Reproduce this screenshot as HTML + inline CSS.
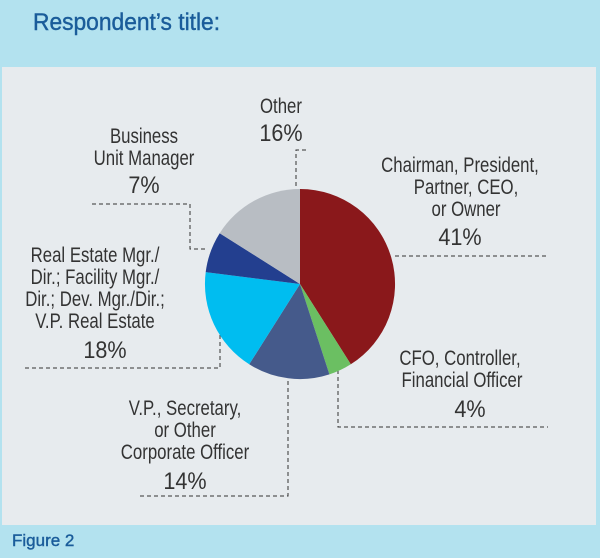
<!DOCTYPE html>
<html><head><style>
body{margin:0;width:600px;height:553px;overflow:hidden;background:#b3e2ef;font-family:"Liberation Sans",sans-serif;}
</style></head><body>
<svg width="600" height="553" viewBox="0 0 600 553" xmlns="http://www.w3.org/2000/svg">
<rect x="0" y="0" width="600" height="553" fill="#b3e2ef"/>
<rect x="2" y="67" width="594" height="458" fill="#e7ebee"/>
<text transform="translate(33,30) scale(0.95,1)" font-size="24" fill="#1a5c9a" stroke="#1a5c9a" stroke-width="0.4">Respondent’s title:</text>
<text x="12" y="546" font-size="17" fill="#1a5c9a" stroke="#1a5c9a" stroke-width="0.4">Figure 2</text>
<g stroke="#333" stroke-width="1" stroke-dasharray="4,3" fill="none">
<polyline points="306,150 296,150 296,189"/>
<polyline points="92,204 190,204 190,249 208,249"/>
<polyline points="395,256 548,256"/>
<polyline points="25,368 220,368 220,335"/>
<polyline points="140,496 288,496 288,378"/>
<polyline points="338,370 338,427 548,427"/>
</g>
<g transform="translate(300,284)">
<path d="M0,0 L0,-95 A95,95 0 0 1 50.8,80.3 Z" fill="#8a181b"/>
<path d="M0,0 L50.8,80.3 A95,95 0 0 1 29.4,90.4 Z" fill="#6bbf62"/>
<path d="M0,0 L29.4,90.4 A95,95 0 0 1 -50.8,80.3 Z" fill="#455a8b"/>
<path d="M0,0 L-50.8,80.3 A95,95 0 0 1 -94.3,-11.9 Z" fill="#00bdf0"/>
<path d="M0,0 L-94.3,-11.9 A95,95 0 0 1 -80.3,-50.8 Z" fill="#233f8f"/>
<path d="M0,0 L-80.3,-50.8 A95,95 0 0 1 0,-95 Z" fill="#b8bdc3"/>
</g>
<g fill="#333" font-size="21" text-anchor="middle">
<text transform="translate(281,113) scale(0.8,1)">Other</text>
<text transform="translate(281,141) scale(0.9,1)" font-size="24">16%</text>
<text transform="translate(144,143) scale(0.8,1)">Business</text>
<text transform="translate(144,165) scale(0.8,1)">Unit Manager</text>
<text transform="translate(144,193) scale(0.9,1)" font-size="24">7%</text>
<text transform="translate(460,172) scale(0.8,1)">Chairman, President,</text>
<text transform="translate(466,194) scale(0.8,1)">Partner, CEO,</text>
<text transform="translate(466,216) scale(0.8,1)">or Owner</text>
<text transform="translate(460,245) scale(0.9,1)" font-size="24">41%</text>
<text transform="translate(95,262) scale(0.8,1)">Real Estate Mgr./</text>
<text transform="translate(95,284) scale(0.8,1)">Dir.; Facility Mgr./</text>
<text transform="translate(95,306) scale(0.8,1)">Dir.; Dev. Mgr./Dir.;</text>
<text transform="translate(95,328) scale(0.8,1)">V.P. Real Estate</text>
<text transform="translate(105,358) scale(0.9,1)" font-size="24">18%</text>
<text transform="translate(460,365) scale(0.8,1)">CFO, Controller,</text>
<text transform="translate(462,387) scale(0.8,1)">Financial Officer</text>
<text transform="translate(470,417) scale(0.9,1)" font-size="24">4%</text>
<text transform="translate(185,415) scale(0.8,1)">V.P., Secretary,</text>
<text transform="translate(185,437) scale(0.8,1)">or Other</text>
<text transform="translate(185,459) scale(0.8,1)">Corporate Officer</text>
<text transform="translate(185,489) scale(0.9,1)" font-size="24">14%</text>
</g>
</svg>
</body></html>
